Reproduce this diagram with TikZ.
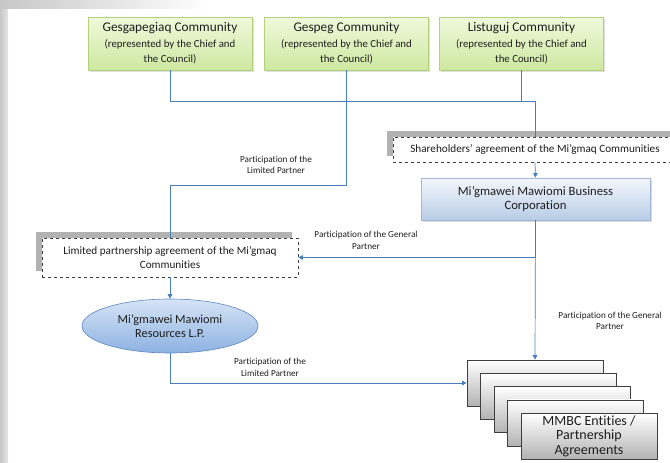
\documentclass[tikz,border=0pt]{standalone}
\usepackage{fontspec}
\setmainfont{Carlito}[Ligatures=NoCommon]
\usetikzlibrary{shadows,arrows.meta,shapes.geometric}
\definecolor{lineblue}{HTML}{4A7EBB}
\definecolor{grnborder}{HTML}{B3D17A}
\definecolor{grntop}{HTML}{F0F9DC}
\definecolor{grnbot}{HTML}{CDE8A0}
\definecolor{bctop}{HTML}{F4F7FC}
\definecolor{bcbot}{HTML}{B8CCE6}
\definecolor{bcborder}{HTML}{9FB6D6}
\definecolor{eltop}{HTML}{D6E4F6}
\definecolor{elbot}{HTML}{8DB2E2}
\definecolor{elborder}{HTML}{5E86C0}
\definecolor{boxborder}{HTML}{3F3F3F}
\definecolor{txt}{HTML}{1E1E1E}
\tikzset{
  comm/.style={rectangle, draw=grnborder, line width=0.6pt, top color=grntop, bottom color=grnbot,
    minimum width=164pt, minimum height=53pt, align=center, inner sep=0pt, text=txt,
    drop shadow={opacity=0.25, shadow xshift=1.5pt, shadow yshift=-1.5pt},
    font=\fontsize{10.8}{15.5}\selectfont},
  dashbox/.style={rectangle, draw=boxborder, dashed, line width=0.6pt, fill=white, align=center,
    inner sep=0pt, text=txt, font=\fontsize{11.2}{14}\selectfont,
    general shadow={fill=black!30, shadow xshift=-6pt, shadow yshift=6.5pt}},
  corp/.style={rectangle, draw=bcborder, line width=0.6pt, top color=bctop, bottom color=bcbot,
    align=center, inner sep=0pt, text=txt, font=\fontsize{12.7}{14.5}\selectfont,
    drop shadow={opacity=0.3, shadow xshift=1.5pt, shadow yshift=-1.5pt}},
  resell/.style={ellipse, draw=elborder, line width=0.6pt, top color=eltop, bottom color=elbot,
    align=center, inner sep=0pt, text=txt, font=\fontsize{12.3}{14}\selectfont},
  entity/.style={rectangle, draw=boxborder, line width=0.7pt, top color=white, bottom color=black!30,
    minimum width=136pt, minimum height=46pt, align=center, inner sep=0pt, text=txt,
    font=\fontsize{14}{14.5}\selectfont},
  conn/.style={draw=lineblue, line width=0.7pt},
  arr/.style={conn, -{Triangle[length=4.5pt,width=4.5pt]}},
  lbl/.style={align=center, inner sep=0pt, text=txt, font=\fontsize{9.2}{11.5}\selectfont}
}
\begin{document}
\begin{tikzpicture}[x=1pt,y=-1pt]
\clip (0,0) rectangle (670,463);
\useasboundingbox (0,0) rectangle (670,463);
% background bands
\shade[left color=black!22, right color=black!10] (0,0) rectangle (8,463);
\shade[left color=black!22, right color=white] (0,0) rectangle (210,8);
% community boxes
\node[comm] (g1) at (170,43.5) {{\fontsize{13.3}{15.5}\selectfont Gesgapegiaq Community}\\(represented by the  Chief and\\the Council)};
\node[comm] (g2) at (346.5,43.5) {{\fontsize{13.3}{15.5}\selectfont Gespeg Community}\\(represented by the Chief and\\the Council)};
\node[comm] (g3) at (521.5,43.5) {{\fontsize{13.3}{15.5}\selectfont Listuguj Community}\\(represented by the Chief and\\the Council)};
% agreements and corporations
\node[dashbox, minimum width=284pt, minimum height=25pt] (sh) at (535,149.5) {Shareholders’ agreement of the Mi’gmaq  Communities};
\node[corp, minimum width=229pt, minimum height=42pt] (bc) at (535.5,199) {Mi’gmawei Mawiomi Business\\Corporation};
\node[dashbox, minimum width=256pt, minimum height=39pt] (lp) at (170,257.5) {Limited partnership agreement of the Mi’gmaq\\Communities};
\node[resell, minimum width=176pt, minimum height=54pt] (rl) at (170,326) {Mi’gmawei Mawiomi\\Resources L.P.};
% entity stack
\node[entity] (m1) at (535,383) {};
\node[entity] (m2) at (548.5,396.3) {};
\node[entity] (m3) at (562,409.6) {};
\node[entity] (m4) at (575.5,422.9) {};
\node[entity] (m5) at (589,436.2) {MMBC Entities /\\Partnership\\Agreements};
% junctions
\coordinate (j1) at (535,101);
\coordinate (j2) at (170,185);
% connectors
\draw[conn] (g1.south) |- (j1);
\draw[conn] (g3.south) -- (g3.south |- j1);
\draw[conn] (j1) -- (sh.north);
\draw[conn] (g2.south) |- (j2) -- (lp.north);
\draw[arr] (sh.south) -- (bc.north);
\draw[arr] (bc.south) |- (lp.east);
\draw[arr] (bc.south) -- (m1.north);
\draw[arr] (lp.south) -- (rl.north);
\draw[arr] (rl.south) |- (m1.west);
% labels
\node[lbl] (l1) at (276,165) {Participation of the\\Limited Partner};
\node[lbl] (l2) at (366,240.5) {Participation of the General\\Partner};
\node[lbl] (l3) at (610,321) {Participation of the General\\Partner};
\node[lbl] (l4) at (270,367.5) {Participation of the\\Limited Partner};
\end{tikzpicture}
\end{document}
